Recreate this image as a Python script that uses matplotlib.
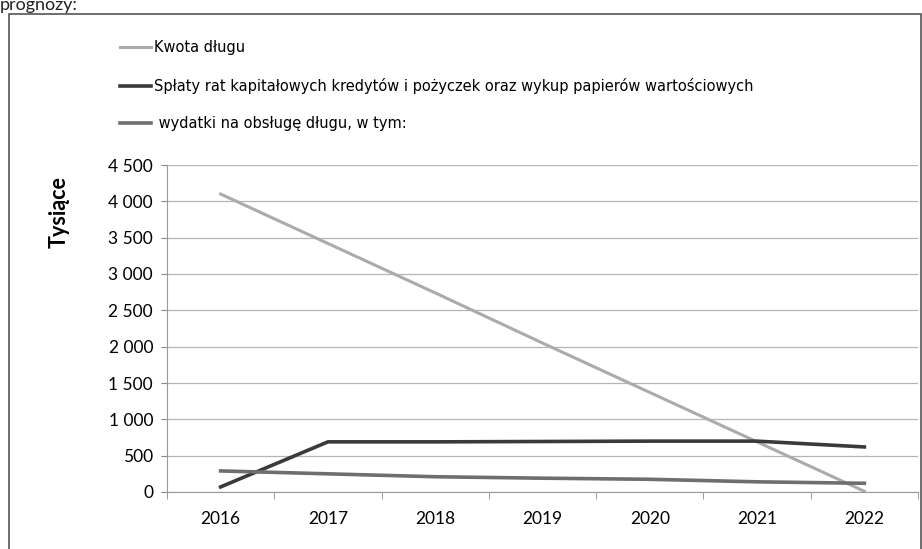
import matplotlib.pyplot as plt
from matplotlib.patches import Rectangle
from matplotlib.ticker import FuncFormatter, MultipleLocator

years = ["2016", "2017", "2018", "2019", "2020", "2021", "2022"]
kwota = [4100, 3420, 2740, 2050, 1370, 690, 10]
splaty = [70, 690, 690, 695, 700, 700, 620]
wydatki = [290, 250, 210, 190, 175, 140, 120]

labels = [
    "Kwota długu",
    "Spłaty rat kapitałowych kredytów i pożyczek oraz wykup papierów wartościowych",
    " wydatki na obsługę długu, w tym:",
]
colors = ["#ababab", "#3a3a3a", "#6e6e6e"]

plt.rcParams['font.family'] = ['Lato', 'DejaVu Sans']

fig = plt.figure(figsize=(9.22, 5.49), dpi=100)

# outer frame of the pasted chart
fig.patches.append(Rectangle((9 / 922, -0.01), 912 / 922, 1 - 14 / 549 + 0.01,
                             transform=fig.transFigure, fill=False,
                             edgecolor="#555555", lw=1.2))
fig.text(0.0, 1 - 10 / 549, "prognozy:", fontsize=13, va="baseline", ha="left", color="#222222")

ax = fig.add_axes([167 / 922, 1 - 492 / 549, 751 / 922, 327 / 549])

x = list(range(len(years)))
ax.plot(x, kwota, color=colors[0], lw=2.2, label=labels[0])
ax.plot(x, splaty, color=colors[1], lw=2.6, label=labels[1])
ax.plot(x, wydatki, color=colors[2], lw=2.6, label=labels[2])

ax.set_xlim(-0.5, len(years) - 0.5)
ax.set_ylim(0, 4500)
ax.yaxis.set_major_locator(MultipleLocator(500))
ax.yaxis.set_major_formatter(FuncFormatter(lambda v, p: f"{int(v):,}".replace(",", " ")))
ax.set_xticks(x)
ax.set_xticklabels(years)
ax.set_xticks([i - 0.5 for i in range(len(years) + 1)], minor=True)
ax.tick_params(axis="x", which="major", length=0, pad=14, labelsize=12.5)
ax.tick_params(axis="x", which="minor", length=5, color="#888888", direction="out")
ax.tick_params(axis="y", length=4, color="#888888", labelsize=12.5, pad=6)

ax.grid(axis="y", color="#b5b5b5", lw=0.9)
ax.set_axisbelow(True)
for s in ["top", "right"]:
    ax.spines[s].set_visible(False)
ax.spines["left"].set_color("#999999")
ax.spines["bottom"].set_color("#999999")

ax.set_ylabel("Tysiące", fontsize=15.5, fontweight="bold")
ax.yaxis.set_label_coords(-0.129, 0.856)

leg = fig.legend(loc="upper left", bbox_to_anchor=(107 / 922, 1 - 27 / 549), frameon=False,
                 labelspacing=1.55, handlelength=2.1, handletextpad=0.2,
                 prop={"family": "DejaVu Sans", "size": 10.5})

fig.savefig("out.png", dpi=100)
